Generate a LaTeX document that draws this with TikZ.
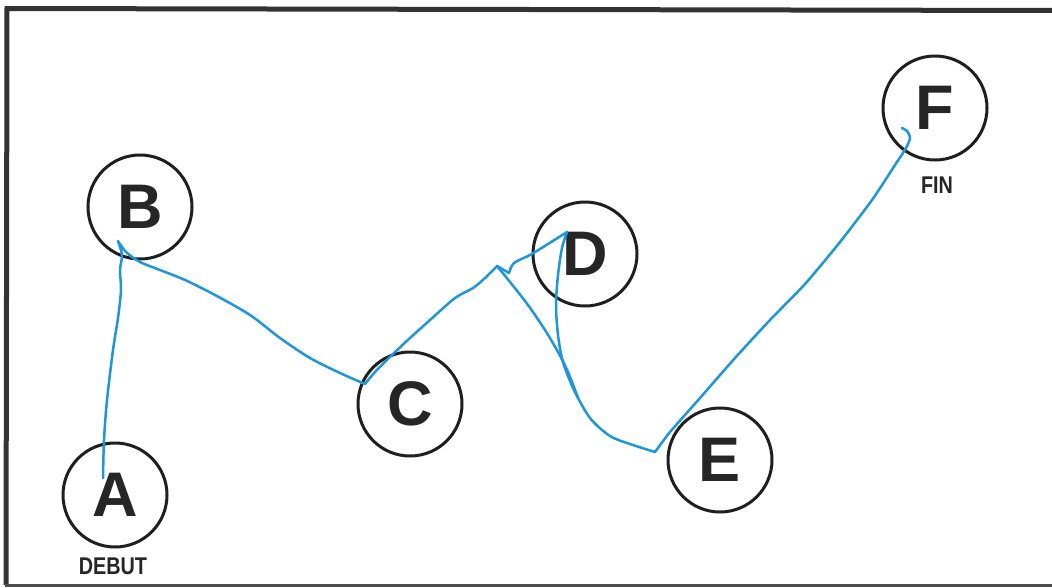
\documentclass[tikz,border=0pt]{standalone}
\usepackage{fontspec}
\setmainfont{Liberation Sans}
\begin{document}
\begin{tikzpicture}[x=1pt,y=-1pt,
  station/.style={circle,draw=black!88,line width=3pt,minimum size=104pt,inner sep=0pt,
    text=black!85,font=\fontsize{63}{63}\selectfont\bfseries},
  caption/.style={inner sep=0pt,text=black!85,xscale=0.9,yscale=1.1,font=\fontsize{22}{22}\selectfont\bfseries},
  frame/.style={draw=black!80,line width=5pt,line join=miter},
  pen/.style={draw={rgb,255:red,30;green,150;blue,222},line width=2.5pt,line cap=round,line join=round}]
\useasboundingbox (0,0) rectangle (1052,587);
\fill[white] (0,0) rectangle (1052,587);
% frame (open on the right)
\draw[frame] (1054,10.5) -- (7,8.5) -- (6,585);
\draw[draw=black!70,line width=3pt] (5,585) -- (1054,585);
% stations
\node[station] (A) at (115,495) {A};
\node[station] (B) at (140,207) {B};
\node[station] (C) at (410,404) {C};
\node[station] (D) at (585,254) {D};
\node[station] (E) at (720,460) {E};
\node[station] (F) at (935,108) {F};
\node[caption] (debut) at (113,566) {DEBUT};
\node[caption] (fin) at (937,185) {FIN};
% hand-drawn route
\coordinate (pA) at (103,478);
\coordinate (pB) at (118,241);
\coordinate (pC) at (365,384);
\coordinate (pK) at (497,266);
\coordinate (pD) at (567,232);
\coordinate (pE) at (655,452);
\coordinate (pF) at (902,128);
\draw[pen] plot[smooth,tension=0.5] coordinates {(pA) (104,440) (107,400) (113,350) (118,318) (121,290) (120,270) (122,255) (pB)}
  -- plot[smooth,tension=0.5] coordinates {(pB) (126,252) (140,262) (160,270) (185,280) (215,295) (250,315) (280,338) (310,358) (340,373) (pC)}
  -- plot[smooth,tension=0.5] coordinates {(pC) (375,372) (392,355) (410,338) (430,320) (455,298) (473,288) (485,278) (pK)}
  -- (509,273) -- plot[smooth,tension=0.5] coordinates {(509,273) (514,263) (530,255) (548,244) (pD)}
  -- plot[smooth,tension=0.5] coordinates {(pD) (562,248) (558,275) (556,305) (558,335) (563,362) (574,390) (590,418) (610,436) (630,444) (pE)}
  -- plot[smooth,tension=0.4] coordinates {(pE) (670,432) (700,398) (735,358) (770,320) (805,284) (840,242) (872,200) (895,165) (906,148) (910,138) (907,131) (pF)};
\draw[pen] plot[smooth,tension=0.5] coordinates {(pK) (510,282) (528,305) (545,330) (558,352) (568,372) (578,398)};
\end{tikzpicture}
\end{document}
